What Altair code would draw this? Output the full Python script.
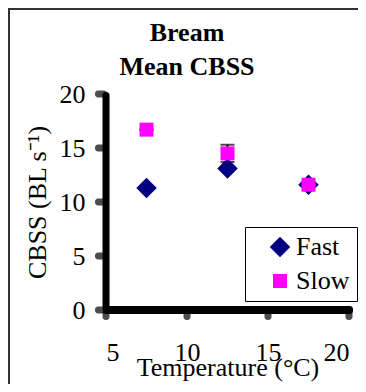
import altair as alt
import pandas as pd

temps = [7.5, 12.5, 17.5]
fast = [11.3, 13.1, 11.6]
slow = [16.7, 14.5, 11.6]
slow_err = [0.0, 0.8, 0.0]
series = ["Fast", "Slow"]
colors = ["#000080", "#FF00FF"]
shapes = ["diamond", "square"]
sizes = [420, 196]
title_lines = ["Bream", "Mean CBSS"]
x_ticks = [5, 10, 15, 20]
y_ticks = [0, 5, 10, 15, 20]

rows = []
for t, v in zip(temps, fast):
    rows.append({"temp": t, "cbss": v, "series": "Fast"})
for t, v in zip(temps, slow):
    rows.append({"temp": t, "cbss": v, "series": "Slow"})
df = pd.DataFrame(rows)

err = pd.DataFrame({
    "temp": temps,
    "lo": [v - e for v, e in zip(slow, slow_err)],
    "hi": [v + e for v, e in zip(slow, slow_err)],
})

FONT = "Liberation Serif"
LW_Y = 7
LW_X = 8
axis_style = dict(
    grid=False, domain=False, ticks=False,
    labelFont=FONT, labelFontSize=26, labelColor="black",
    titleFont=FONT, titleFontSize=26, titleFontWeight="normal", titleColor="black",
)

xscale = alt.Scale(domain=[5, 20], nice=False, zero=False)
yscale = alt.Scale(domain=[0, 20], nice=False)

x = alt.X("temp:Q", scale=xscale,
          axis=alt.Axis(values=x_ticks, title="Temperature (°C)",
                        labelPadding=29, titleBaseline="alphabetic", titleY=65,
                        **axis_style))
y = alt.Y("cbss:Q", scale=yscale,
          axis=alt.Axis(values=y_ticks, title="CBSS (BL s⁻¹)",
                        labelPadding=21, titleBaseline="alphabetic", titleX=-61,
                        **axis_style))

points = alt.Chart(df).mark_point(filled=True, opacity=1).encode(
    x=x, y=y,
    color=alt.Color("series:N", scale=alt.Scale(domain=series, range=colors),
                    legend=alt.Legend(title=None)),
    shape=alt.Shape("series:N", scale=alt.Scale(domain=series, range=shapes),
                    legend=alt.Legend(title=None)),
    size=alt.Size("series:N", scale=alt.Scale(domain=series, range=sizes),
                  legend=alt.Legend(title=None)),
)

ex = alt.X("temp:Q", scale=xscale)
bars = alt.Chart(err).mark_rule(color="black", strokeWidth=2).encode(
    x=ex, y=alt.Y("lo:Q", scale=yscale), y2="hi:Q")
caps_hi = alt.Chart(err).mark_tick(color="black", thickness=2, size=14, orient="horizontal").encode(
    x=ex, y=alt.Y("hi:Q", scale=yscale))
caps_lo = alt.Chart(err).mark_tick(color="black", thickness=2, size=14, orient="horizontal").encode(
    x=ex, y=alt.Y("lo:Q", scale=yscale))

# heavy axis frame (lines + tick marks) as filled bars through the same scales
one = pd.DataFrame({"a": [0]})
yaxis_line = alt.Chart(one).mark_rect(color="black", cornerRadius=3).encode(
    x=alt.value(-LW_Y / 2), x2=alt.value(LW_Y / 2), y=alt.value(-2), y2=alt.value(218))
xaxis_line = alt.Chart(one).mark_rect(color="black", cornerRadius=3).encode(
    x=alt.value(-3), x2=alt.value(247), y=alt.value(216 - LW_X / 2), y2=alt.value(216 + LW_X / 2))
yt = alt.Chart(pd.DataFrame({"v": y_ticks})).mark_tick(
    color="black", orient="horizontal", thickness=LW_Y, size=12, cornerRadius=3).encode(
    y=alt.Y("v:Q", scale=yscale), x=alt.value(-5))
xt = alt.Chart(pd.DataFrame({"v": x_ticks})).mark_tick(
    color="black", orient="vertical", thickness=LW_Y, size=10, cornerRadius=3).encode(
    x=alt.X("v:Q", scale=xscale), y=alt.value(221))

border_top = alt.Chart(one).mark_rect(color="#333333").encode(
    x=alt.value(-98), x2=alt.value(260), y=alt.value(-86), y2=alt.value(-84))
border_left = alt.Chart(one).mark_rect(color="#333333").encode(
    x=alt.value(-98), x2=alt.value(-96), y=alt.value(-86), y2=alt.value(300))

title1 = alt.Chart(one).mark_text(text=title_lines[0], font=FONT, fontSize=26, fontWeight="bold",
                                  color="black", align="center", baseline="alphabetic").encode(
    x=alt.value(81), y=alt.value(-53))
title2 = alt.Chart(one).mark_text(text=title_lines[1], font=FONT, fontSize=26, fontWeight="bold",
                                  color="black", align="center", baseline="alphabetic").encode(
    x=alt.value(81), y=alt.value(-19))

chart = alt.layer(border_top, border_left, title1, title2, yaxis_line, xaxis_line, yt, xt,
                  bars, caps_hi, caps_lo, points).properties(
    width=243, height=216,
    autosize=alt.AutoSizeParams(type="none"),
    padding={"left": 98, "top": 86, "right": 9, "bottom": 74},
).configure_view(stroke=None).configure_legend(
    orient="none", legendX=139, legendY=133,
    strokeColor="black", strokeWidth=1, fillColor="white", padding=7,
    labelFont=FONT, labelFontSize=26, labelColor="black",
    symbolOffset=15, labelOffset=3, rowPadding=8, symbolStrokeWidth=0,
)

chart.save("out.html", embed_options={"renderer": "svg", "actions": False})
